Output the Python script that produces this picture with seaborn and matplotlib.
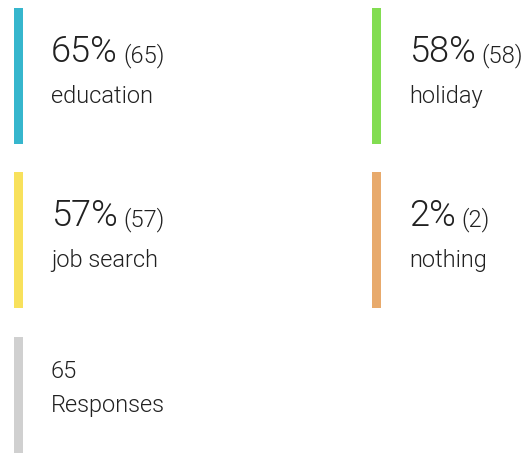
import matplotlib
matplotlib.use("Agg")
import matplotlib.pyplot as plt
from matplotlib import font_manager as fm
import seaborn as sns

# answers to the question, in reading order (left->right, top->bottom)
labels = ["education", "holiday", "job search", "nothing"]
counts = [65, 58, 57, 2]
percents = [65, 58, 57, 2]
colors = ["#36b6cd", "#82dd51", "#f8e15c", "#e8aa6c"]
total_responses = 65
total_color = "#d0d0d0"

sns.set_theme(style="white")
plt.rcParams["font.family"] = ["Roboto", "DejaVu Sans"]


def roboto(fname, size):
    # pick the static Roboto files, not the variable one
    for f in fm.fontManager.ttflist:
        if f.fname.endswith(fname):
            return fm.FontProperties(fname=f.fname, size=size)
    return fm.FontProperties(family="Roboto", size=size)


big_font = roboto("Roboto-Light.ttf", 26)
small_font = roboto("Roboto-Light.ttf", 17)
label_font = roboto("Roboto-Light.ttf", 17)

W, H = 530, 453
fig = plt.figure(figsize=(W / 100, H / 100), dpi=100)
ax = fig.add_axes([0, 0, 1, 1])
ax.set_xlim(0, W)
ax.set_ylim(H, 0)
ax.axis("off")

col_x = [14, 372]
row_y = [8, 172, 337]
bar_w, bar_h = 9, 136
text_dx = 37
ink = "#212121"

for i, (lab, n, p, c) in enumerate(zip(labels, counts, percents, colors)):
    x0 = col_x[i % 2]
    y0 = row_y[i // 2]
    ax.bar(x0, bar_h, bottom=y0, width=bar_w, align="edge", color=c, linewidth=0)
    big = ax.text(x0 + text_dx, y0 + 54, f"{p}%", fontproperties=big_font,
                  color=ink, va="baseline", ha="left")
    ax.annotate(f"({n})", xy=(1, y0 + 54), xycoords=(big, "data"),
                xytext=(4, 0), textcoords="offset points",
                fontproperties=small_font, color=ink, va="baseline", ha="left")
    ax.text(x0 + text_dx, y0 + 95, lab, fontproperties=label_font, color=ink,
            va="baseline", ha="left")

# total responses card
x0, y0 = col_x[0], row_y[2]
ax.bar(x0, bar_h, bottom=y0, width=bar_w, align="edge", color=total_color, linewidth=0)
ax.text(x0 + text_dx, y0 + 41, str(total_responses), fontproperties=label_font,
        color=ink, va="baseline", ha="left")
ax.text(x0 + text_dx, y0 + 75, "Responses", fontproperties=label_font,
        color=ink, va="baseline", ha="left")

fig.savefig("out.png", dpi=100, facecolor="white")
